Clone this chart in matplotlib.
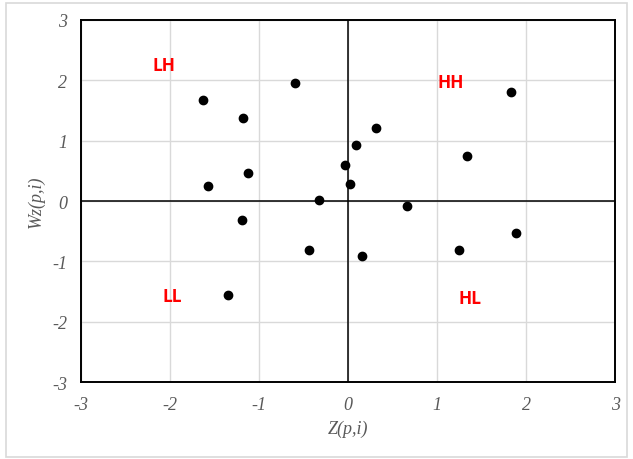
import matplotlib.pyplot as plt
from matplotlib.patches import Rectangle

# standardized values and spatial lag
z_vals = [-0.60, -1.63, -1.18, -1.12, -1.57, -1.19, -0.33, -0.44, -1.35,
          1.83, 0.31, 0.09, -0.04, 0.02, 1.34, 0.66, 0.16, 1.25, 1.88]
wz_vals = [1.95, 1.67, 1.37, 0.46, 0.25, -0.31, 0.02, -0.81, -1.56,
           1.80, 1.21, 0.93, 0.60, 0.28, 0.75, -0.08, -0.91, -0.81, -0.53]

quad_labels = ['LH', 'HH', 'LL', 'HL']
quad_x = [-2.07, 1.15, -1.98, 1.37]
quad_y = [2.25, 1.97, -1.57, -1.61]

ticks = [-3, -2, -1, 0, 1, 2, 3]

fig = plt.figure(figsize=(6.33, 4.6), dpi=100)
fig.patches.append(Rectangle((0.009, 0.004), 0.982, 0.988, transform=fig.transFigure,
                             fill=False, edgecolor='#d9d9d9', linewidth=1.2))
ax = fig.add_axes([0.128, 0.1667, 0.844, 0.788])

ax.set_xlim(-3, 3)
ax.set_ylim(-3, 3)
ax.set_xticks(ticks)
ax.set_yticks(ticks)
ax.grid(True, color='#d9d9d9', linewidth=1.0)
ax.set_axisbelow(True)
ax.axhline(0, color='black', linewidth=1.1, zorder=2)
ax.axvline(0, color='black', linewidth=1.1, zorder=2)
for s in ax.spines.values():
    s.set_linewidth(1.4)
    s.set_color('black')
ax.tick_params(length=0, pad=10)

tick_font = dict(family='Liberation Serif', style='italic', size=13, color='#595959')
ax.set_xticklabels([str(t) for t in ticks], **tick_font)
ax.set_yticklabels([str(t) for t in ticks], **tick_font)

ax.scatter(z_vals, wz_vals, s=36, color='black', zorder=3)

for lab, x, y in zip(quad_labels, quad_x, quad_y):
    ax.text(x, y, lab, color='red', fontweight='bold', fontsize=12.5,
            family='Open Sans', ha='center', va='center')

ax.set_xlabel('Z(p,i)', family='Liberation Serif', style='italic', size=13,
              color='#595959', labelpad=5)
ax.set_ylabel('Wz(p,i)', family='Liberation Serif', style='italic', size=13,
              color='#595959', labelpad=5)

plt.savefig('out.png', dpi=100)
